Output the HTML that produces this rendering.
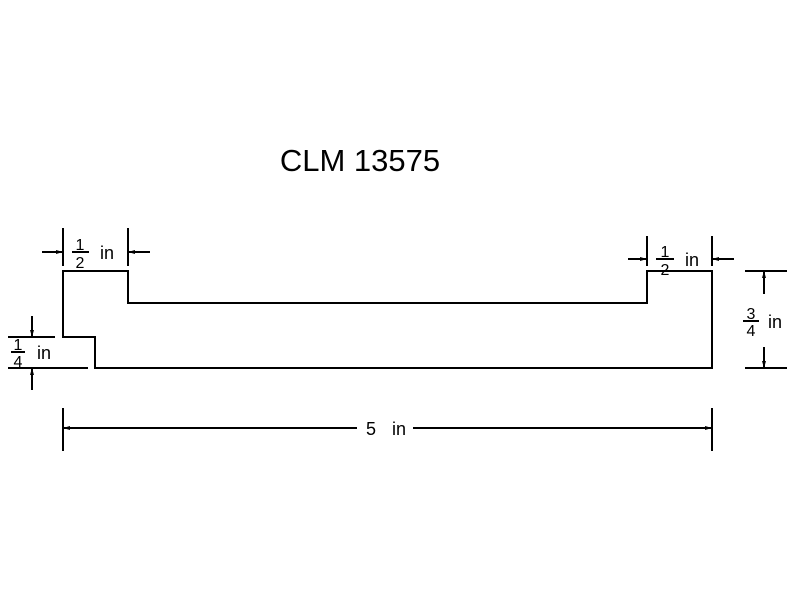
<!DOCTYPE html>
<html><head><style>
html,body{margin:0;padding:0;background:#fff;}
svg{display:block;}
text{font-family:"Liberation Sans",sans-serif;fill:#000;}
</style></head><body>
<svg width="800" height="600" viewBox="0 0 800 600" xmlns="http://www.w3.org/2000/svg">
<g stroke="#000" stroke-width="2" fill="none">
<path d="M63 271 H128 V303 H647 V271 H712 V368 H95 V337 H63 Z"/>
<line x1="63" y1="228" x2="63" y2="266"/>
<line x1="128" y1="228" x2="128" y2="266"/>
<line x1="42" y1="252" x2="63" y2="252"/>
<line x1="128" y1="252" x2="150" y2="252"/>
<line x1="647" y1="236" x2="647" y2="266"/>
<line x1="712" y1="236" x2="712" y2="266"/>
<line x1="628" y1="259" x2="647" y2="259"/>
<line x1="712" y1="259" x2="734" y2="259"/>
<line x1="8" y1="337" x2="55" y2="337"/>
<line x1="8" y1="368" x2="88" y2="368"/>
<line x1="32" y1="316" x2="32" y2="337"/>
<line x1="32" y1="368" x2="32" y2="390"/>
<line x1="11" y1="352" x2="25" y2="352"/>
<line x1="745" y1="271" x2="787" y2="271"/>
<line x1="745" y1="368" x2="787" y2="368"/>
<line x1="764" y1="271" x2="764" y2="294"/>
<line x1="764" y1="347" x2="764" y2="368"/>
<line x1="743" y1="321" x2="759" y2="321"/>
<line x1="63" y1="408" x2="63" y2="451"/>
<line x1="712" y1="408" x2="712" y2="451"/>
<line x1="63" y1="428" x2="357" y2="428"/>
<line x1="413" y1="428" x2="712" y2="428"/>
<line x1="72" y1="252" x2="89" y2="252"/>
<line x1="656" y1="259" x2="674" y2="259"/>
</g>
<g fill="#000">
<path d="M63 252 l-7 -2 v4 z"/><path d="M128 252 l7 -2 v4 z"/>
<path d="M647 259 l-7 -2 v4 z"/><path d="M712 259 l7 -2 v4 z"/>
<path d="M32 337 l-2 -7 h4 z"/><path d="M32 368 l-2 7 h4 z"/>
<path d="M764 271 l-2 7 h4 z"/><path d="M764 368 l-2 -7 h4 z"/>
<path d="M63 428 l7 -2 v4 z"/><path d="M712 428 l-7 -2 v4 z"/>
</g>
<text x="360" y="171" font-size="31" text-anchor="middle">CLM 13575</text>
<text x="80" y="250" font-size="16" text-anchor="middle">1</text>
<text x="80" y="268" font-size="16" text-anchor="middle">2</text>
<text x="100" y="259" font-size="18">in</text>
<text x="665" y="257" font-size="16" text-anchor="middle">1</text>
<text x="665" y="275" font-size="16" text-anchor="middle">2</text>
<text x="685" y="266" font-size="18">in</text>
<text x="18" y="350" font-size="16" text-anchor="middle">1</text>
<text x="18" y="367" font-size="16" text-anchor="middle">4</text>
<text x="37" y="359" font-size="18">in</text>
<text x="751" y="319" font-size="16" text-anchor="middle">3</text>
<text x="751" y="336" font-size="16" text-anchor="middle">4</text>
<text x="768" y="328" font-size="18">in</text>
<text x="366" y="435" font-size="18">5</text>
<text x="392" y="435" font-size="18">in</text>
</svg>
</body></html>
